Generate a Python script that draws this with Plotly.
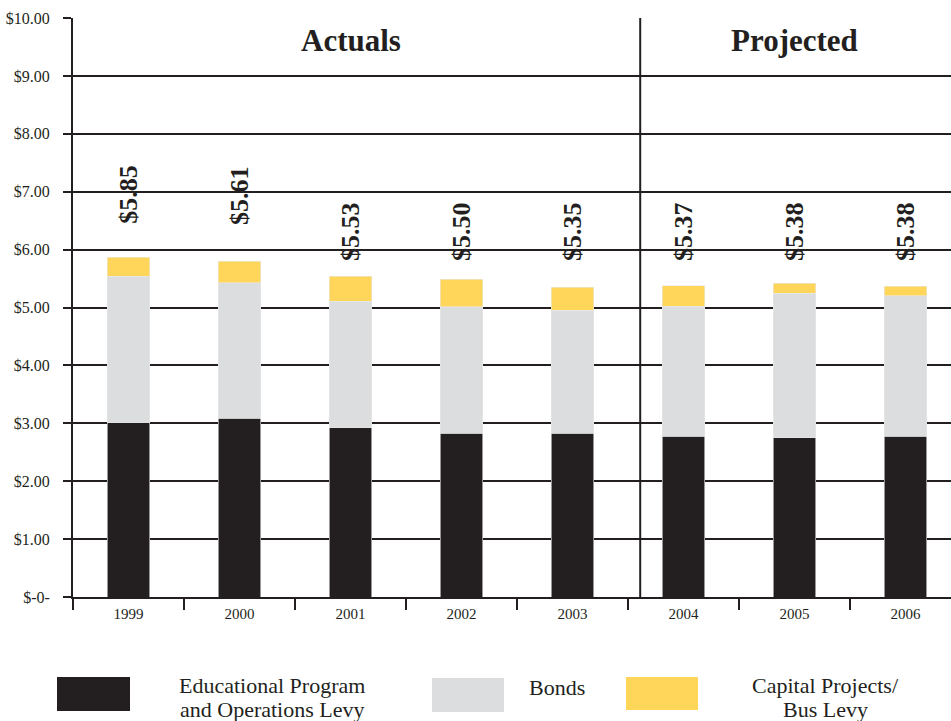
import plotly.graph_objects as go

years = ["1999", "2000", "2001", "2002", "2003", "2004", "2005", "2006"]
edu_levy = [3.01, 3.09, 2.92, 2.83, 2.83, 2.78, 2.75, 2.78]
bonds = [2.53, 2.34, 2.19, 2.18, 2.12, 2.24, 2.50, 2.42]
capital_bus = [0.33, 0.37, 0.43, 0.48, 0.40, 0.36, 0.17, 0.17]
total_labels = ["$5.85", "$5.61", "$5.53", "$5.50", "$5.35", "$5.37", "$5.38", "$5.38"]
series_names = ["Educational Program<br>and Operations Levy", "Bonds", "Capital Projects/<br>Bus Levy"]
y_ticks = [0, 1, 2, 3, 4, 5, 6, 7, 8, 9, 10]
y_ticktext = ["$-0-", "$1.00", "$2.00", "$3.00", "$4.00", "$5.00", "$6.00", "$7.00", "$8.00", "$9.00", "$10.00"]
section_titles = ["Actuals", "Projected"]

colors = ["#231f20", "#dcdddf", "#ffd65a"]
SERIF = "Liberation Serif, Times New Roman, serif"

W, H = 951, 721
L, R, T, B = 73, 0, 18, 124
plot_w = W - L - R
plot_h = H - T - B
cat_w = 111.0
x_range = [-0.5, -0.5 + plot_w / cat_w]

fig = go.Figure()
for vals, name, col in zip([edu_levy, bonds, capital_bus], series_names, colors):
    fig.add_trace(go.Bar(
        x=years, y=vals, name=name.replace("<br>", " "), width=0.38,
        marker=dict(color=col, line=dict(color="#e8e8e8", width=0.6)),
        showlegend=False, hoverinfo="x+y",
    ))

# value labels (rotated)
label_base = [6.41, 6.39, 5.77, 5.77, 5.77, 5.77, 5.77, 5.77]
for i, (txt, yb) in enumerate(zip(total_labels, label_base)):
    fig.add_annotation(x=i, y=yb, text="<b>" + txt + "</b>", textangle=-90, showarrow=False,
                       xanchor="center", yanchor="bottom",
                       font=dict(family=SERIF, size=26, color="#231f20"))

# section titles
fig.add_annotation(x=2, y=9.62, text="<b>" + section_titles[0] + "</b>", showarrow=False,
                   font=dict(family=SERIF, size=31, color="#231f20"))
fig.add_annotation(x=6, y=9.62, text="<b>" + section_titles[1] + "</b>", showarrow=False,
                   font=dict(family=SERIF, size=31, color="#231f20"))

# separator between actuals and projected
fig.add_shape(type="line", xref="x", yref="y", x0=4.61, x1=4.61, y0=0, y1=10,
              line=dict(color="#231f20", width=2), layer="above")

# custom legend
def px_x(px):
    return (px - L) / plot_w

def px_y(py):
    return (H - B - py) / plot_h

boxes = [(57, 130, 677, 711), (432, 504, 678, 712), (626, 698, 677, 710)]
for (x0, x1, y0, y1), col in zip(boxes, colors):
    fig.add_shape(type="rect", xref="paper", yref="paper",
                  x0=px_x(x0), x1=px_x(x1), y0=px_y(y1), y1=px_y(y0),
                  fillcolor=col, line=dict(width=0))

leg_font = dict(family=SERIF, size=22, color="#231f20")
leg_pos = [(272, [685, 709]), (557, [687]), (825, [685, 709])]
for name, (cx, ys) in zip(series_names, leg_pos):
    for line, cy in zip(name.split("<br>"), ys):
        fig.add_annotation(xref="paper", yref="paper", x=px_x(cx), y=px_y(cy),
                           text=line, showarrow=False, xanchor="center",
                           yanchor="middle", font=leg_font)

fig.update_layout(
    width=W, height=H,
    margin=dict(l=L, r=R, t=T, b=B, autoexpand=False),
    barmode="stack",
    plot_bgcolor="white", paper_bgcolor="white",
    font=dict(family=SERIF, color="#231f20"),
    xaxis=dict(
        type="category", range=x_range, showgrid=False,
        showline=True, linecolor="#231f20", linewidth=2,
        ticks="outside", tickson="boundaries", ticklen=11, tickwidth=2,
        tickcolor="#231f20", tickfont=dict(family=SERIF, size=15, color="#231f20"),
        ticklabelstandoff=2,
        fixedrange=True,
    ),
    yaxis=dict(
        range=[0, 10], tickvals=y_ticks, ticktext=y_ticktext,
        showgrid=True, gridcolor="#231f20", gridwidth=2,
        zeroline=False,
        showline=True, linecolor="#231f20", linewidth=2,
        ticks="outside", ticklen=8, tickwidth=2, tickcolor="#231f20",
        tickfont=dict(family=SERIF, size=16, color="#231f20"),
        ticklabelstandoff=10,
        fixedrange=True,
    ),
)

fig.write_html("out.html", config={"displayModeBar": False},
               post_script="document.body.style.margin='0';document.body.style.overflow='hidden';")
